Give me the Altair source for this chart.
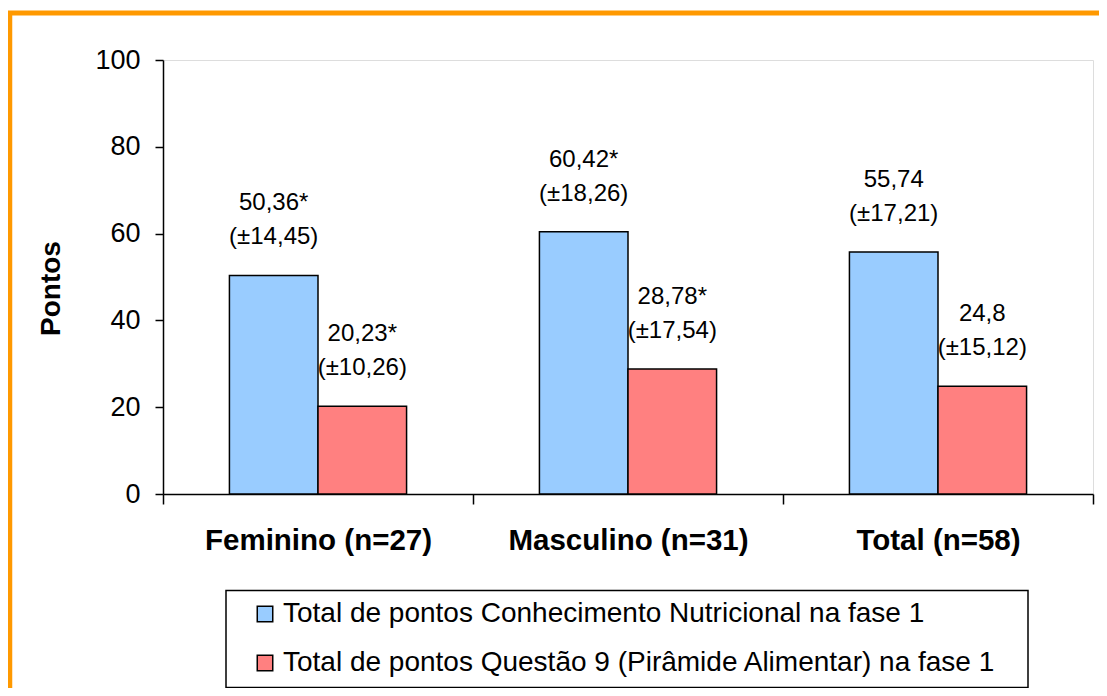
import altair as alt
import pandas as pd

categorias = ["Feminino (n=27)", "Masculino (n=31)", "Total (n=58)"]
series = [
    "Total de pontos Conhecimento Nutricional na fase 1",
    "Total de pontos Questão 9 (Pirâmide Alimentar) na fase 1",
]
media_conhecimento = [50.36, 60.42, 55.74]
dp_conhecimento = [14.45, 18.26, 17.21]
sig_conhecimento = ["*", "*", ""]
media_questao9 = [20.23, 28.78, 24.8]
dp_questao9 = [10.26, 17.54, 15.12]
sig_questao9 = ["*", "*", ""]
y_ticks = [0, 20, 40, 60, 80, 100]
cores = ["#99CCFF", "#FF8080"]

FONT = "Liberation Sans"


def br(v):
    return f"{v:g}".replace(".", ",")


rows = []
for s, medias, dps, sigs in [
    (series[0], media_conhecimento, dp_conhecimento, sig_conhecimento),
    (series[1], media_questao9, dp_questao9, sig_questao9),
]:
    for c, m, d, g in zip(categorias, medias, dps, sigs):
        rows.append({
            "categoria": c,
            "serie": s,
            "valor": m,
            "rotulo": f"{br(m)}{g}\n(±{br(d)})",
        })
df = pd.DataFrame(rows)

W, H = 930, 434

x_enc = alt.X(
    "categoria:N",
    sort=categorias,
    scale=alt.Scale(paddingInner=0, paddingOuter=0),
    axis=alt.Axis(
        title=None,
        labelAngle=0,
        tickBand="extent",
        tickSize=10,
        labelFont=FONT,
        labelFontSize=29.5,
        labelFontWeight="bold",
        labelPadding=22,
        labelLimit=1000,
        labelColor="black",
        domainColor="black",
        tickColor="black",
        domainWidth=1.5,
        tickWidth=1.5,
    ),
)
xo_enc = alt.XOffset(
    "serie:N", sort=series, scale=alt.Scale(paddingInner=0, paddingOuter=0.75)
)
y_enc = alt.Y(
    "valor:Q",
    scale=alt.Scale(domain=[0, 100], nice=False),
    axis=alt.Axis(
        values=y_ticks,
        grid=False,
        title="Pontos",
        titleFont=FONT,
        titleFontSize=28,
        titleFontWeight="bold",
        titleColor="black",
        titleAngle=270,
        titleX=-112,
        titleY=228,
        titleAlign="center",
        titleBaseline="middle",
        tickSize=8,
        labelFont=FONT,
        labelFontSize=27,
        labelPadding=15,
        labelColor="black",
        domainColor="black",
        tickColor="black",
        domainWidth=1.5,
        tickWidth=1.5,
    ),
)

base = alt.Chart(df)

bars = base.mark_bar(stroke="black", strokeWidth=1.5).encode(
    x=x_enc,
    xOffset=xo_enc,
    y=y_enc,
    color=alt.Color(
        "serie:N",
        sort=series,
        scale=alt.Scale(domain=series, range=cores),
        legend=alt.Legend(
            title=None,
            orient="none",
            legendX=63,
            legendY=530,
            direction="vertical",
            padding=10,
            symbolType="square",
            symbolSize=240,
            symbolStrokeColor="black",
            symbolStrokeWidth=1.5,
            symbolOffset=15,
            labelFont=FONT,
            labelFontSize=28,
            labelColor="black",
            labelOffset=4,
            labelLimit=2000,
            rowPadding=21,
        ),
    ),
)

labels = base.mark_text(
    font=FONT,
    fontSize=24,
    color="black",
    lineBreak="\n",
    lineHeight=34,
    baseline="bottom",
    align="center",
    dy=-60,
).encode(
    x=alt.X("categoria:N", sort=categorias),
    xOffset=alt.XOffset("serie:N", sort=series),
    y=alt.Y("valor:Q"),
    text="rotulo:N",
)

frame_df = pd.DataFrame({"k": [0]})
frame_top = alt.Chart(frame_df).mark_rule(color="#FF9900", strokeWidth=5).encode(
    x=alt.value(-155), x2=alt.value(2000), y=alt.value(-47)
)
frame_left = alt.Chart(frame_df).mark_rule(color="#FF9900", strokeWidth=4.5).encode(
    x=alt.value(-153), y=alt.value(-49), y2=alt.value(2000)
)
legend_box = alt.Chart(frame_df).mark_rect(
    fillOpacity=0, stroke="black", strokeWidth=1.5
).encode(
    x=alt.value(63), x2=alt.value(865), y=alt.value(530.5), y2=alt.value(627.5)
)

chart = (
    alt.layer(frame_top, frame_left, legend_box, bars, labels)
    .properties(
        width=W,
        height=H,
        autosize=alt.AutoSizeParams(type="none"),
        padding={"left": 155, "top": 52, "right": 6, "bottom": 194},
    )
    .configure_view(stroke=None)
    .configure(background="white")
)

chart.save("out.html", embed_options={"renderer": "svg", "actions": False})
